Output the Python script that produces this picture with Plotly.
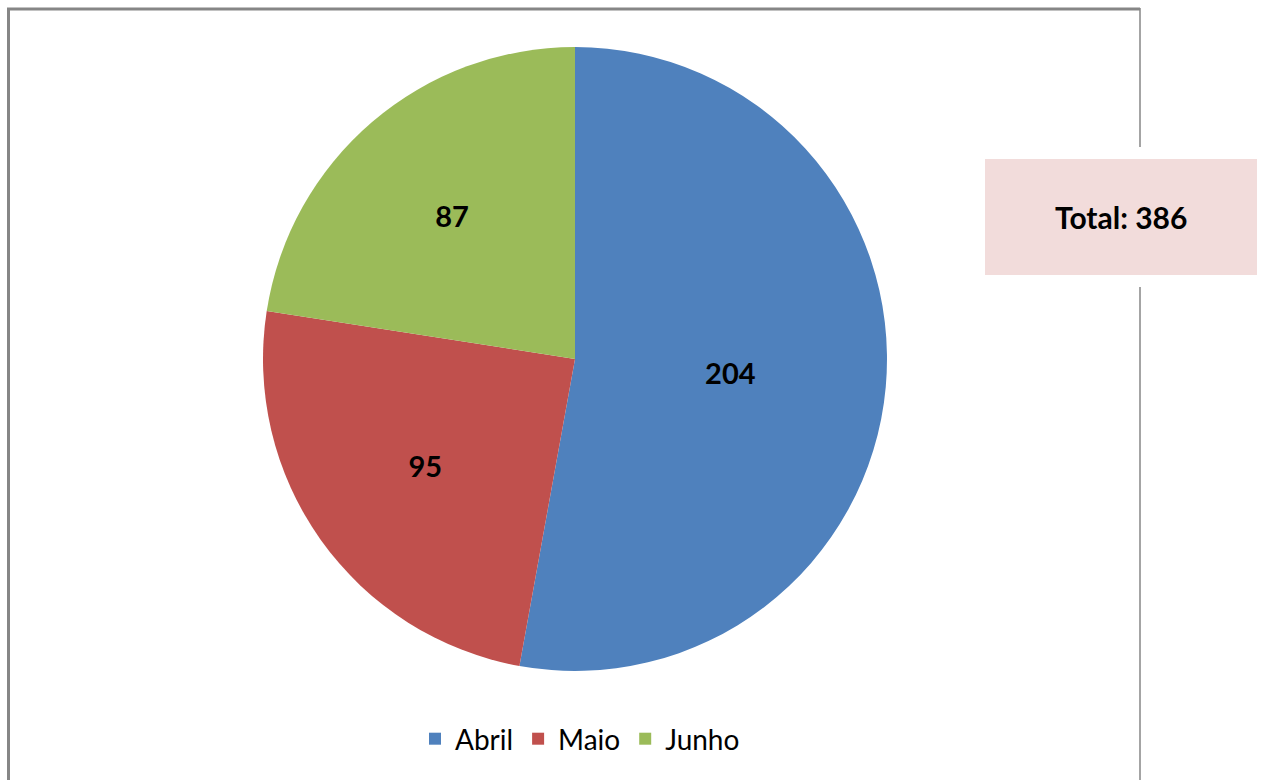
import plotly.graph_objects as go

categories = ["Abril", "Maio", "Junho"]
values = [204, 95, 87]
colors = ["#4f81bd", "#c0504d", "#9bbb59"]

W, H = 1264, 780

def px(x):
    return x / W

def py(y):
    return 1 - y / H

cx, cy, r = 575, 359, 312

fig = go.Figure(go.Pie(
    labels=categories,
    values=values,
    marker=dict(colors=colors, line=dict(color="white", width=0)),
    sort=False,
    direction="clockwise",
    rotation=0,
    textinfo="value",
    textposition="inside",
    insidetextorientation="horizontal",
    textfont=dict(family="Lato", size=29, color="black", weight="bold"),
    domain=dict(x=[px(cx - r), px(cx + r)], y=[py(cy + r), py(cy - r)]),
    showlegend=True,
))

total = sum(values)

shapes = [
    dict(type="line", xref="paper", yref="paper", x0=px(7), x1=px(1140), y0=py(9), y1=py(9),
         line=dict(color="#868686", width=3)),
    dict(type="line", xref="paper", yref="paper", x0=px(8.5), x1=px(8.5), y0=py(8), y1=py(780),
         line=dict(color="#868686", width=3)),
    dict(type="line", xref="paper", yref="paper", x0=px(1140), x1=px(1140), y0=py(8), y1=py(147),
         line=dict(color="#868686", width=1.5)),
    dict(type="line", xref="paper", yref="paper", x0=px(1140), x1=px(1140), y0=py(287), y1=py(780),
         line=dict(color="#868686", width=1.5)),
    dict(type="rect", xref="paper", yref="paper", x0=px(985), x1=px(1257), y0=py(159), y1=py(275),
         fillcolor="#f2dcdb", line=dict(width=0), layer="above"),
]

fig.update_layout(
    width=W, height=H,
    margin=dict(l=0, r=0, t=0, b=0),
    paper_bgcolor="white",
    plot_bgcolor="white",
    font=dict(family="Lato", color="black"),
    shapes=shapes,
    annotations=[dict(
        text=f"<b>Total: {total}</b>", xref="paper", yref="paper",
        x=px(1121), y=py(217), showarrow=False, xanchor="center", yanchor="middle",
        font=dict(family="Lato", size=30, color="black"),
    )],
    legend=dict(
        orientation="h", x=px(580), y=py(739), xanchor="center", yanchor="middle",
        font=dict(family="Lato", size=28, color="black"),
        itemwidth=30, traceorder="normal",
    ),
)

fig.write_html(
    "out.html",
    config={"displayModeBar": False},
    post_script="document.body.style.margin='0';document.body.style.overflow='hidden';",
)
